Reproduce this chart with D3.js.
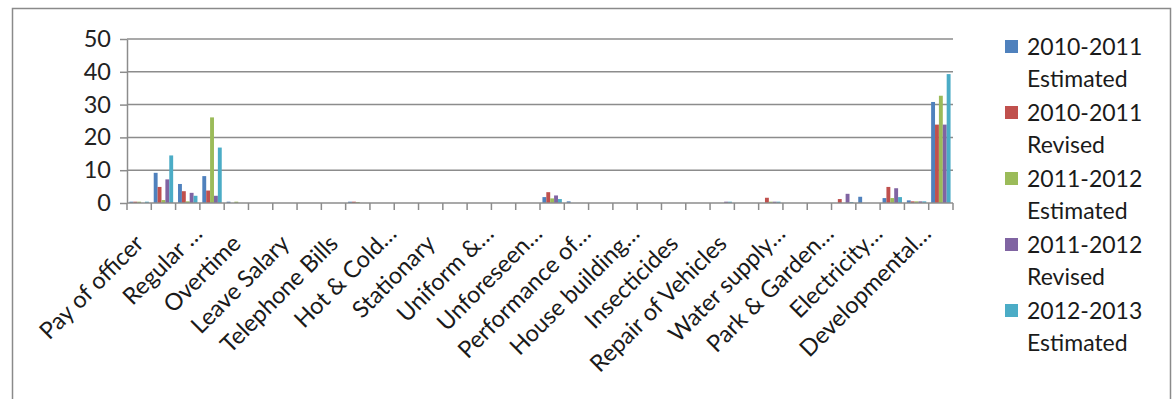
<!DOCTYPE html>
<html>
<head>
<meta charset="utf-8">
<script src="https://cdn.jsdelivr.net/npm/d3@7"></script>
<style>
  html, body { margin: 0; padding: 0; background: #fff; }
  svg { display: block; font-family: Lato, "Open Sans", sans-serif; }
</style>
</head>
<body>
<svg id="chart" width="1174" height="399"></svg>
<script>
// Expenditure heads (34 in total); the axis prints the name of every second head
const categoryLabels = [
  "Pay of officer", "Regular \u2026", "Overtime", "Leave Salary", "Telephone Bills",
  "Hot & Cold\u2026", "Stationary", "Uniform &\u2026", "Unforeseen\u2026",
  "Performance of\u2026", "House building\u2026", "Insecticides", "Repair of Vehicles",
  "Water supply\u2026", "Park & Garden\u2026", "Electricity\u2026", "Developmental\u2026"
];
const categoryCount = 34;

const seriesNames = [
  ["2010-2011", "Estimated"],
  ["2010-2011", "Revised"],
  ["2011-2012", "Estimated"],
  ["2011-2012", "Revised"],
  ["2012-2013", "Estimated"]
];
const seriesColors = ["#4F81BD", "#C0504D", "#9BBB59", "#8064A2", "#4BACC6"];

const est2010 = [0.4, 9.2, 5.8, 8.2, 0.4, 0, 0, 0, 0, 0.4, 0, 0, 0, 0, 0, 0, 0, 1.8, 0.5, 0, 0, 0, 0, 0, 0, 0, 0, 0, 0, 0, 1.9, 1.5, 0.8, 30.8];
const rev2010 = [0.4, 4.9, 3.6, 3.8, 0, 0, 0, 0, 0, 0.4, 0, 0, 0, 0, 0, 0, 0, 3.3, 0, 0, 0, 0, 0, 0, 0, 0, 1.6, 0, 0, 1.2, 0, 4.9, 0.5, 23.9];
const est2011 = [0.4, 0.9, 0.5, 26.1, 0.4, 0, 0, 0, 0, 0.3, 0, 0, 0, 0, 0, 0, 0, 1.4, 0, 0, 0, 0, 0, 0, 0, 0, 0.4, 0, 0, 0, 0, 1.5, 0.5, 32.7];
const rev2011 = [0, 7.2, 3.1, 2.2, 0, 0, 0, 0, 0, 0, 0, 0, 0, 0, 0, 0, 0, 2.3, 0, 0, 0, 0, 0, 0, 0.4, 0, 0.4, 0, 0, 2.8, 0, 4.5, 0.5, 23.9];
const est2012 = [0.4, 14.5, 2.2, 16.9, 0, 0, 0, 0, 0, 0, 0, 0, 0, 0, 0, 0, 0, 1.2, 0, 0, 0, 0, 0, 0, 0.4, 0, 0.4, 0, 0, 0.3, 0, 1.8, 0.5, 39.3];
const seriesValues = [est2010, rev2010, est2011, rev2011, est2012];

const yTicks = [0, 10, 20, 30, 40, 50];

const svg = d3.select("#chart");

// outer chart frame
svg.append("rect")
  .attr("x", 12.5).attr("y", 8.5)
  .attr("width", 1158).attr("height", 420)
  .attr("fill", "none").attr("stroke", "#8a8a8a").attr("stroke-width", 1.5);

const plotLeft = 127, plotRight = 953, plotTop = 39, plotBottom = 203;

const x = d3.scaleBand().domain(d3.range(categoryCount)).range([plotLeft, plotRight]).padding(0);
const xs = d3.scaleBand().domain(d3.range(seriesValues.length))
  .range([x.bandwidth() * 0.1, x.bandwidth() * 0.9]).padding(0);
const y = d3.scaleLinear().domain([0, 50]).range([plotBottom, plotTop]);

// horizontal gridlines
svg.append("g").selectAll("line").data(yTicks.filter(d => d > 0)).join("line")
  .attr("x1", plotLeft).attr("x2", plotRight)
  .attr("y1", d => y(d)).attr("y2", d => y(d))
  .attr("stroke", "#8c8c8c").attr("stroke-width", 1.5);

// y axis
const yAxis = svg.append("g").attr("transform", `translate(${plotLeft},0)`)
  .call(d3.axisLeft(y).tickValues(yTicks).tickSize(7).tickSizeOuter(0).tickPadding(9));
yAxis.select(".domain").attr("stroke", "#8c8c8c").attr("stroke-width", 1.5);
yAxis.selectAll(".tick line").attr("stroke", "#8c8c8c").attr("stroke-width", 1.5);
yAxis.selectAll(".tick text").attr("font-size", 23.5).attr("fill", "#222")
  .attr("font-family", "Lato, sans-serif");

// bars
const groups = svg.append("g").selectAll("g").data(seriesValues).join("g")
  .attr("fill", (d, i) => seriesColors[i]);
groups.each(function (vals, s) {
  d3.select(this).selectAll("rect").data(vals.map((v, i) => ({ v, i }))).join("rect")
    .attr("x", d => x(d.i) + xs(s))
    .attr("width", xs.bandwidth())
    .attr("y", d => y(d.v))
    .attr("height", d => y(0) - y(d.v));
});

// x axis line and category boundary ticks
svg.append("line")
  .attr("x1", plotLeft).attr("x2", plotRight).attr("y1", plotBottom).attr("y2", plotBottom)
  .attr("stroke", "#8c8c8c").attr("stroke-width", 1.5);
svg.append("g").selectAll("line").data(d3.range(categoryCount + 1)).join("line")
  .attr("x1", i => plotLeft + i * x.step()).attr("x2", i => plotLeft + i * x.step())
  .attr("y1", plotBottom).attr("y2", plotBottom + 7)
  .attr("stroke", "#8c8c8c").attr("stroke-width", 1.5);

// rotated category labels on every second head
const labelled = d3.range(0, categoryCount, 2);
svg.append("g").selectAll("text").data(labelled).join("text")
  .attr("transform", i => {
    const name = categoryLabels[i / 2];
    const shift = name.endsWith("\u2026") ? 14 : 0;
    return `translate(${x(i) + x.bandwidth() / 2 + 6},${plotBottom + 42}) rotate(-45) translate(${shift},0)`;
  })
  .attr("text-anchor", "end")
  .attr("font-size", 23.5)
  .attr("fill", "#1a1a1a")
  .text(i => categoryLabels[i / 2]);

// legend
const legend = svg.append("g").selectAll("g").data(seriesNames).join("g")
  .attr("transform", (d, i) => `translate(1005,${40 + i * 66})`);
legend.append("rect")
  .attr("width", 13).attr("height", 13)
  .attr("fill", (d, i) => seriesColors[i]);
legend.append("text")
  .attr("x", 22).attr("y", 15)
  .attr("font-size", 23).attr("fill", "#1a1a1a")
  .text(d => d[0]);
legend.append("text")
  .attr("x", 22).attr("y", 47)
  .attr("font-size", 23).attr("fill", "#1a1a1a")
  .text(d => d[1]);
</script>
</body>
</html>
